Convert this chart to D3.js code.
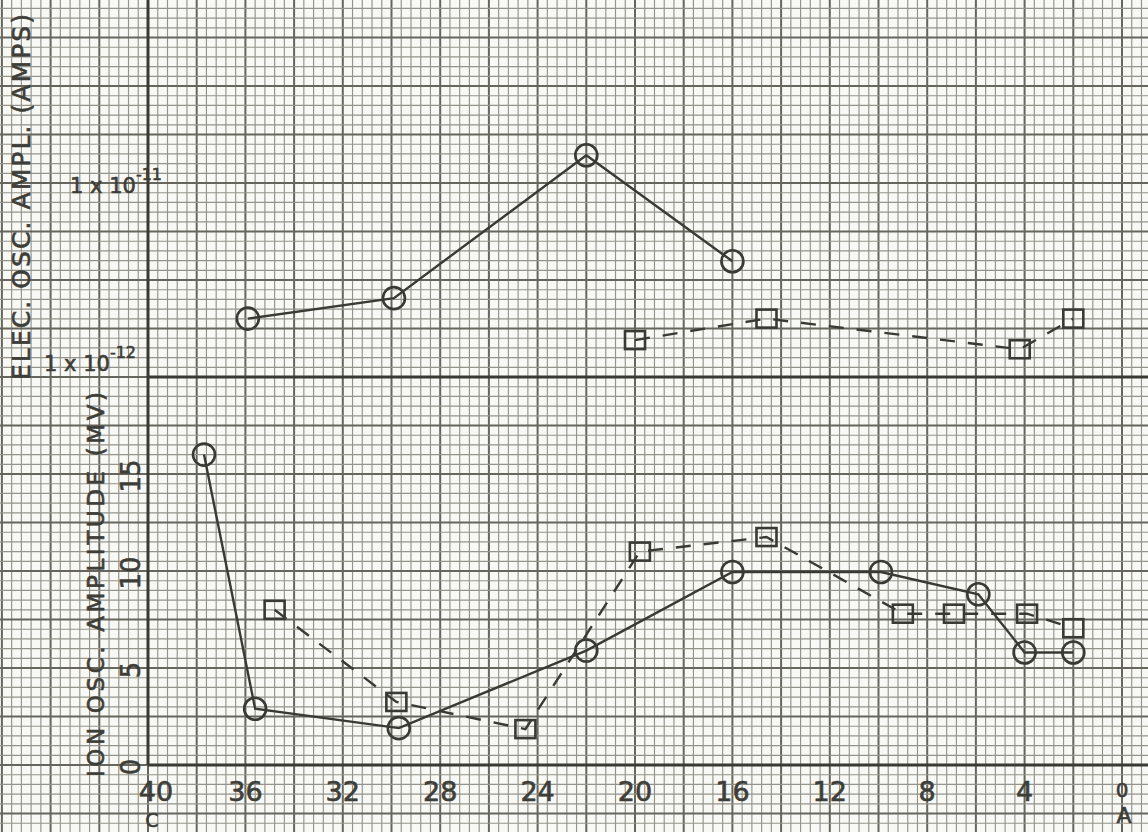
<!DOCTYPE html>
<html>
<head>
<meta charset="utf-8">
<script src="https://cdn.jsdelivr.net/npm/d3@7"></script>
<style>
  html, body { margin: 0; padding: 0; background: #f8f8f4; }
  svg { display: block; }
  text { font-family: "DejaVu Sans", "Liberation Sans", sans-serif; fill: #3e3e39; stroke: #3e3e39; stroke-width: 0.6; }
</style>
</head>
<body>
<svg id="chart" width="1148" height="832"></svg>
<script>
// ---- data ----
const xTicks = [40, 36, 32, 28, 24, 20, 16, 12, 8, 4, 0];
const ionTicks = [0, 5, 10, 15];

// lower panel: ion oscillation amplitude (mV)
const ionCircleX = [37.7, 35.6, 29.7, 22.0, 16.0, 9.9, 5.9, 4.0, 2.0];
const ionCircleY = [16.0, 2.9, 1.9, 5.9, 9.95, 9.95, 8.8, 5.8, 5.8];
const ionSquareX = [34.8, 29.8, 24.5, 19.8, 14.6, 9.0, 6.9, 3.9, 2.0];
const ionSquareY = [8.0, 3.25, 1.85, 11.0, 11.75, 7.8, 7.8, 7.8, 7.05];

// upper panel: electron oscillation amplitude (amps, log)
const elecCircleX = [35.9, 29.9, 22.0, 16.0];
const elecCircleY = [2.0e-12, 2.55e-12, 1.39e-11, 3.95e-12];
const elecSquareX = [20.0, 14.6, 4.2, 2.0];
const elecSquareY = [1.55e-12, 2.0e-12, 1.39e-12, 2.0e-12];

// ---- drawing ----
const W = 1148, H = 832;
const svg = d3.select("#chart");
svg.append("rect").attr("width", W).attr("height", H).attr("fill", "#f8f8f4");

const x = d3.scaleLinear().domain([40, 0]).range([148, 1122]);
const yIon = d3.scaleLinear().domain([0, 15]).range([765, 474]);
const yElec = d3.scaleLog().domain([1e-12, 1e-11]).range([yIon(20), yIon(30)]);

// graph-paper grid (0.4 units in x, 0.5 units in y)
const grid = svg.append("g");
const kx = d3.range(-16, 106);
grid.selectAll("line.gv").data(kx).join("line")
  .attr("x1", k => x(40 - k * 0.4)).attr("x2", k => x(40 - k * 0.4))
  .attr("y1", 0).attr("y2", H)
  .attr("stroke", k => k % 5 === 0 ? "#66665f" : "#94948d")
  .attr("stroke-width", k => k % 5 === 0 ? 2 : 1.15);
const ky = d3.range(-8, 82);
grid.selectAll("line.gh").data(ky).join("line")
  .attr("y1", k => yIon(k * 0.5)).attr("y2", k => yIon(k * 0.5))
  .attr("x1", 0).attr("x2", W)
  .attr("stroke", k => k % 5 === 0 ? "#66665f" : "#94948d")
  .attr("stroke-width", k => k % 5 === 0 ? 2 : 1.15);

// heavy axis lines
const ink = "#3a3a35";
svg.append("line").attr("x1", x(40)).attr("x2", x(40)).attr("y1", 0).attr("y2", yIon(0))
  .attr("stroke", ink).attr("stroke-width", 3);
svg.append("line").attr("x1", x(40)).attr("x2", W).attr("y1", yIon(0)).attr("y2", yIon(0))
  .attr("stroke", ink).attr("stroke-width", 3);
svg.append("line").attr("x1", x(40)).attr("x2", W).attr("y1", yElec(1e-12)).attr("y2", yElec(1e-12))
  .attr("stroke", ink).attr("stroke-width", 3);

// x tick labels
svg.append("g").selectAll("text").data(xTicks).join("text")
  .attr("x", d => x(d) + (d === 40 ? 8 : 0)).attr("y", d => d === 0 ? 797 : 801)
  .attr("text-anchor", "middle").attr("font-size", d => d === 0 ? 20 : 27)
  .text(d => d);
svg.append("text").attr("x", 152).attr("y", 827).attr("text-anchor", "middle")
  .attr("font-size", 19).text("C");
svg.append("text").attr("x", 1124).attr("y", 823).attr("text-anchor", "middle")
  .attr("font-size", 22).text("A");

// lower y tick labels (rotated)
svg.append("g").selectAll("text").data(ionTicks).join("text")
  .attr("transform", d => `translate(${140},${yIon(d) + 2}) rotate(-90)`)
  .attr("text-anchor", "middle").attr("font-size", 26)
  .text(d => d);

// axis titles
svg.append("text")
  .attr("transform", `translate(30,${380}) rotate(-90)`)
  .attr("font-size", 25).attr("textLength", 366).attr("lengthAdjust", "spacing")
  .text("ELEC. OSC. AMPL. (AMPS)");
svg.append("text")
  .attr("transform", `translate(104,${777}) rotate(-90)`)
  .attr("font-size", 23).attr("textLength", 385).attr("lengthAdjust", "spacing")
  .text("ION OSC. AMPLITUDE (MV)");

// upper decade labels
function decade(px, py, exp) {
  const t = svg.append("text").attr("x", px).attr("y", py).attr("font-size", 21);
  t.append("tspan").text("1 x 10");
  t.append("tspan").attr("dy", -13).attr("font-size", 16).text(exp);
}
decade(70, yElec(1e-11) + 10, "-11");
decade(44, yElec(1e-12) - 6, "-12");

// ---- series ----
function series(xs, ys, yScale, dashed, shape) {
  const pts = xs.map((d, i) => [x(d), yScale(ys[i])]);
  svg.append("path").attr("d", d3.line()(pts))
    .attr("fill", "none").attr("stroke", ink).attr("stroke-width", 2.4)
    .attr("stroke-dasharray", dashed ? "15,13" : null);
  const g = svg.append("g");
  if (shape === "circle") {
    g.selectAll("circle").data(pts).join("circle")
      .attr("cx", d => d[0]).attr("cy", d => d[1]).attr("r", 11)
      .attr("fill", "none").attr("stroke", ink).attr("stroke-width", 2.6);
  } else {
    g.selectAll("rect").data(pts).join("rect")
      .attr("x", d => d[0] - 10).attr("y", d => d[1] - 9)
      .attr("width", 20).attr("height", 18)
      .attr("fill", "none").attr("stroke", ink).attr("stroke-width", 2.6);
  }
}
series(ionCircleX, ionCircleY, yIon, false, "circle");
series(ionSquareX, ionSquareY, yIon, true, "square");
series(elecCircleX, elecCircleY, yElec, false, "circle");
series(elecSquareX, elecSquareY, yElec, true, "square");
</script>
</body>
</html>
